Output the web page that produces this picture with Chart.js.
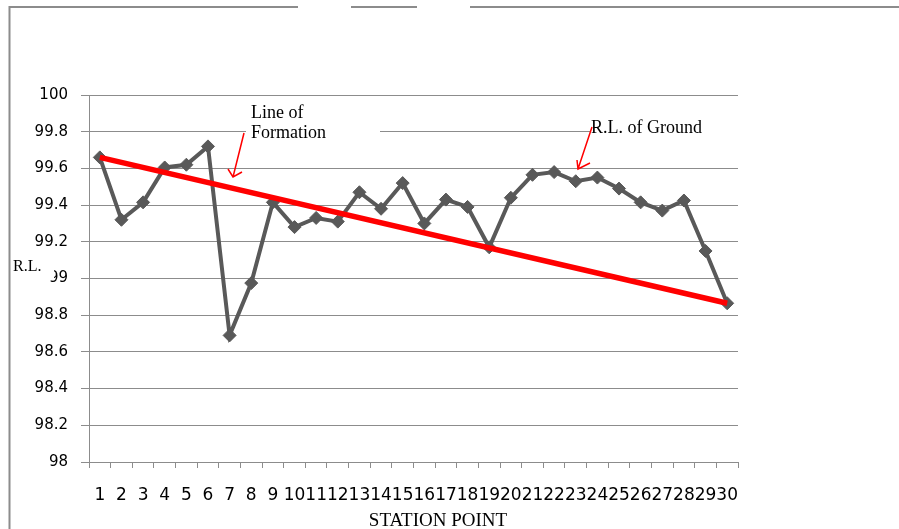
<!DOCTYPE html>
<html>
<head>
<meta charset="utf-8">
<script src="https://cdn.jsdelivr.net/npm/chart.js@4.4.1/dist/chart.umd.min.js"></script>
<style>
  body { margin: 0; background: #fff; }
  canvas { display: block; }
</style>
</head>
<body>
<canvas id="rlChart" width="899" height="529"></canvas>
<script>
// station points along the x axis
const stations = ['1','2','3','4','5','6','7','8','9','10','11','12','13','14','15',
  '16','17','18','19','20','21','22','23','24','25','26','27','28','29','30'];

// R.L. of ground
const groundLevels = [99.66, 99.32, 99.415, 99.605, 99.62, 99.72, 98.69, 98.975, 99.415, 99.28,
  99.33, 99.31, 99.47, 99.38, 99.52, 99.30, 99.43, 99.39, 99.17, 99.44,
  99.565, 99.58, 99.53, 99.55, 99.49, 99.415, 99.37, 99.425, 99.15, 98.865];

// line of formation, straight from first to last station
const formationStations = ['1', '30'];
const formationLevels = [99.66, 98.865];

const yTicks = { min: 98, max: 100, step: 0.2 };

const gridGray = '#8c8c8c';
const serif = '"Liberation Serif", "Times New Roman", serif';

// frame, text boxes and arrows drawn on top like the original sheet
const extras = {
  id: 'extras',
  beforeDraw(chart) {
    const ctx = chart.ctx;
    ctx.save();
    ctx.fillStyle = '#fff';
    ctx.fillRect(0, 0, chart.width, chart.height);
    ctx.restore();
  },
  afterDraw(chart) {
    const ctx = chart.ctx;
    ctx.save();
    // outer frame bits
    ctx.strokeStyle = '#8c8c8c';
    ctx.lineWidth = 2;
    ctx.beginPath();
    ctx.moveTo(9.5, 529); ctx.lineTo(9.5, 7);
    ctx.lineTo(298, 7);
    ctx.moveTo(351, 7); ctx.lineTo(417, 7);
    ctx.moveTo(470, 7); ctx.lineTo(899, 7);
    ctx.stroke();

    // white boxes behind the labels
    ctx.fillStyle = '#fff';
    ctx.fillRect(246, 100, 134, 42);
    ctx.fillRect(590, 116, 148, 22);
    ctx.fillRect(11, 256, 43, 24);

    ctx.fillStyle = '#000';
    ctx.textBaseline = 'alphabetic';
    ctx.textAlign = 'left';
    ctx.font = '18px ' + serif;
    ctx.fillText('Line of', 251, 118);
    ctx.fillText('Formation', 251, 138);
    ctx.fillText('R.L. of Ground', 591, 133);
    ctx.font = '16px ' + serif;
    ctx.fillText('R.L.', 13, 271);
    ctx.font = '19px ' + serif;
    ctx.textAlign = 'center';
    ctx.fillText('STATION POINT', 438, 526);

    // red arrows
    ctx.strokeStyle = '#ff0000';
    ctx.lineWidth = 1.5;
    ctx.beginPath();
    ctx.moveTo(244, 133); ctx.lineTo(233, 177);
    ctx.moveTo(228, 169); ctx.lineTo(233, 177); ctx.lineTo(242, 172);
    ctx.moveTo(592, 127); ctx.lineTo(578, 169);
    ctx.moveTo(577, 160); ctx.lineTo(578, 169); ctx.lineTo(590, 163);
    ctx.stroke();
    ctx.restore();
  }
};

new Chart(document.getElementById('rlChart'), {
  type: 'line',
  data: {
    labels: stations,
    datasets: [{
      label: 'Line of Formation',
      data: formationStations.map((s, i) => ({ x: s, y: formationLevels[i] })),
      borderColor: '#ff0000',
      borderWidth: 5.5,
      pointRadius: 0,
      order: 0
    }, {
      label: 'R.L. of Ground',
      data: groundLevels,
      borderColor: '#595959',
      backgroundColor: '#595959',
      borderWidth: 4,
      pointStyle: 'rectRot',
      pointRadius: 6.5,
      pointBorderWidth: 1,
      order: 1
    }]
  },
  options: {
    responsive: false,
    devicePixelRatio: 1,
    animation: false,
    layout: { padding: { left: 0, top: 95, right: 161, bottom: 0 } },
    plugins: { legend: { display: false }, tooltip: { enabled: false } },
    scales: {
      x: {
        offset: true,
        grid: { offset: true, drawOnChartArea: false, drawTicks: true, tickLength: 6, color: gridGray },
        border: { color: gridGray },
        ticks: {
          autoSkip: false, maxRotation: 0, padding: 17, color: '#000',
          font: { family: '"DejaVu Sans", sans-serif', size: 17 }
        },
        afterFit(scale) { scale.height = 67; }
      },
      y: {
        min: yTicks.min,
        max: yTicks.max,
        grid: { color: gridGray, tickLength: 8 },
        border: { color: gridGray },
        ticks: {
          stepSize: yTicks.step, padding: 13, color: '#000',
          font: { family: '"DejaVu Sans", sans-serif', size: 15 },
          callback: v => String(Number(v.toFixed(1)))
        },
        afterFit(scale) { scale.width = 89; }
      }
    }
  },
  plugins: [extras]
});
</script>
</body>
</html>
